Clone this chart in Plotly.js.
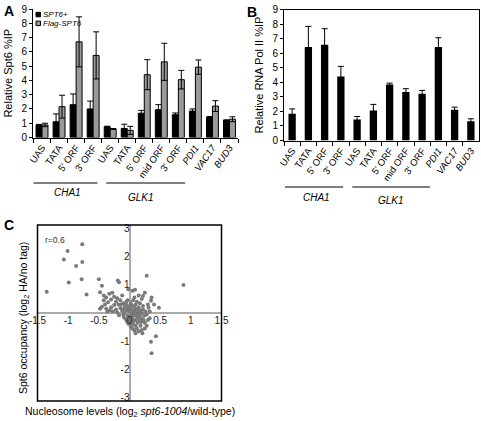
<!DOCTYPE html>
<html>
<head>
<meta charset="utf-8">
<script src="https://cdn.plot.ly/plotly-3.0.1.min.js"></script>
<style>html,body{margin:0;padding:0;background:#fff;}#chart{width:481px;height:421px;}</style>
</head>
<body>
<div id="chart"></div>
<script>
// ---- Data ----
const categories = ['CHA1 UAS','CHA1 TATA','CHA1 5ORF','CHA1 3ORF','GLK1 UAS','GLK1 TATA','GLK1 5ORF','GLK1 midORF','GLK1 3ORF','PDI1','VAC17','BUD3'];
const tickLabels = ['UAS','TATA',"5' ORF","3' ORF",'UAS','TATA',"5' ORF",'mid ORF',"3' ORF",'<i>PDI1</i>','<i>VAC17</i>','<i>BUD3</i>'];
const seriesNames = ['SPT6+', 'Flag-SPT6'];

const spt6Plus    = [0.87, 1.10, 2.30, 2.00, 0.75, 0.63, 1.70, 1.95, 1.60, 1.85, 1.40, 1.20];
const spt6PlusErr = [0.05, 0.55, 0.75, 0.55, 0.04, 0.30, 0.20, 0.35, 0.12, 0.15, 0.07, 0.04];
const flagSpt6    = [0.88, 2.16, 6.70, 5.75, 0.60, 0.50, 4.40, 5.30, 4.05, 4.93, 2.20, 1.28];
const flagSpt6Err = [0.12, 0.80, 1.75, 1.65, 0.03, 0.28, 1.05, 1.30, 0.65, 0.50, 0.38, 0.17];

const polII    = [1.84, 6.42, 6.58, 4.40, 1.44, 2.06, 3.85, 3.33, 3.21, 6.42, 2.11, 1.33];
const polIIErr = [0.33, 1.42, 1.10, 0.69, 0.21, 0.42, 0.09, 0.23, 0.23, 0.64, 0.18, 0.16];

const yTicksAB = [0,1,2,3,4,5,6,7,8,9];

// Panel C: nucleosome levels (x) vs Spt6 occupancy (y)
const nucX = [-1.35,-1.01,-1.07,-0.77,-0.87,-0.77,-0.99,-0.78,-0.70,-0.50,-0.45,-0.48,-0.19,-0.17,-0.02,0.05,0.09,0.28,0.25,0.35,0.31,0.48,0.88,0.33,0.21,0.43,0.35,0.36,
  -0.42,-0.38,-0.33,-0.30,-0.28,-0.25,-0.22,-0.35,-0.40,-0.45,-0.48,-0.38,-0.30,-0.25,-0.20,-0.15,-0.12,-0.18,-0.10,-0.32,-0.27,-0.22,-0.15,-0.12,-0.08,-0.05,-0.42,-0.36,-0.20,-0.10,-0.17,
  -0.05,-0.02,0.00,0.02,0.05,0.08,0.10,0.12,0.15,0.03,-0.03,0.00,0.05,0.08,0.10,0.12,0.15,0.18,0.20,0.02,-0.05,0.06,0.12,0.17,0.22,0.00,0.03,0.06,0.10,0.13,0.16,0.20,0.24,0.05,0.08,0.12,0.18,0.02,-0.02,-0.06,0.25,0.28,0.30,0.15,0.10,-0.08,-0.12,0.04,0.07,-0.01,0.01,0.09,0.14,0.19,0.22,0.26,-0.04,0.11,0.06,0.00,-0.07,0.16,0.04,0.13,-0.03,0.08,-0.14,0.20,0.30,0.33,0.28,0.20,0.25,0.06,-0.09,0.17,0.23,0.15,0.22,0.36,0.40];
const spt6Y = [0.75,2.20,1.90,2.44,1.67,1.81,1.08,1.20,0.66,1.20,0.97,0.74,1.15,1.09,0.84,0.79,0.82,1.32,0.72,0.43,0.19,0.19,0.99,-0.19,-0.72,-0.82,-1.02,-1.43,
  0.62,0.55,0.68,0.48,0.72,0.58,0.40,0.38,0.30,0.22,0.15,0.15,0.20,0.28,0.52,0.45,0.62,0.30,0.35,0.10,0.05,0.12,0.18,0.08,0.22,0.40,0.45,0.05,0.02,-0.05,-0.08,
  0.10,0.20,0.05,0.15,0.25,0.10,0.30,0.05,0.20,-0.05,-0.10,-0.15,-0.20,-0.08,-0.25,-0.12,-0.05,0.10,0.00,0.35,0.28,0.45,0.40,0.35,0.25,-0.30,-0.35,-0.40,-0.45,-0.35,-0.28,-0.20,-0.10,-0.55,-0.62,-0.55,-0.45,-0.48,-0.38,-0.22,-0.35,-0.05,-0.25,-0.65,-0.72,0.00,0.12,0.02,-0.02,0.08,-0.22,0.18,-0.18,-0.32,0.12,0.05,-0.30,-0.05,0.08,0.25,0.15,0.00,-0.12,0.12,0.45,0.55,0.30,0.50,0.30,0.05,-0.45,-0.60,-0.55,-0.30,-0.15,-0.10,-0.25,0.62,0.60,0.55,0.30];
const cXTicks = [-1.5,-1,-0.5,0,0.5,1,1.5];
const cXTickText = ['-1.5','-1','-0.5','0','0.5','1','1.5'];
const cYTicks = [3,2,1,-1,-2,-3];
const cYTickText = ['3','2','1','-1','-2','-3'];

// ---- Geometry helpers (pixel -> paper) ----
const W = 481, H = 421;
const px = v => v / W;
const py = v => (H - v) / H;

const FONT = 'Arial, "Liberation Sans", sans-serif';
const GRAY_BAR = '#9a9a9a';

const traces = [
  { type:'bar', name:seriesNames[0], x:categories, y:spt6Plus, xaxis:'x', yaxis:'y', showlegend:false,
    marker:{color:'#000', line:{color:'#000', width:1}},
    error_y:{type:'data', array:spt6PlusErr, visible:true, color:'#000', thickness:1, width:3} },
  { type:'bar', name:seriesNames[1], x:categories, y:flagSpt6, xaxis:'x', yaxis:'y', showlegend:false,
    marker:{color:GRAY_BAR, line:{color:'#000', width:1}},
    error_y:{type:'data', array:flagSpt6Err, visible:true, color:'#000', thickness:1, width:3} },
  { type:'bar', name:'RNA Pol II', x:categories, y:polII, xaxis:'x2', yaxis:'y2', width:0.45, showlegend:false,
    marker:{color:'#000'},
    error_y:{type:'data', array:polIIErr, visible:true, color:'#000', thickness:1, width:3} },
  { type:'scatter', mode:'markers', x:nucX, y:spt6Y, xaxis:'x3', yaxis:'y3', showlegend:false,
    marker:{color:'#7a7a7a', size:4} }
];

const catAxis = (domain, anchor) => ({
  domain: domain, anchor: anchor, type:'category',
  tickvals: categories, ticktext: tickLabels, tickangle: -55,
  tickfont:{family:FONT, size:9.5, color:'#000'},
  showline:true, linecolor:'#000', linewidth:1,
  ticks:'outside', ticklen:4, tickcolor:'#000', tickson:'boundaries',
  showgrid:false, zeroline:false, automargin:false, fixedrange:true
});

const layout = {
  width: W, height: H,
  margin:{l:0, r:0, t:0, b:0},
  paper_bgcolor:'#fff', plot_bgcolor:'rgba(0,0,0,0)',
  font:{family:FONT, color:'#000'},
  barmode:'group', bargap:0.3, bargroupgap:0,
  showlegend:false,
  xaxis: catAxis([px(33), px(238)], 'y'),
  yaxis: { domain:[py(137.5), py(9)], anchor:'x', range:[0,9], tickvals:yTicksAB,
    tickfont:{family:FONT, size:10, color:'#000'}, showline:true, linecolor:'#000', linewidth:1,
    ticks:'outside', ticklen:3, tickcolor:'#000', showgrid:false, zeroline:false, automargin:false,
    title:{text:'Relative Spt6 %IP', font:{family:FONT, size:11}, standoff:6} },
  xaxis2: Object.assign(catAxis([px(284), px(479)], 'y2'), {mirror:true}),
  yaxis2: { domain:[py(140.5), py(9.5)], anchor:'x2', range:[0,9], tickvals:yTicksAB,
    tickfont:{family:FONT, size:10, color:'#000'}, showline:true, mirror:true, linecolor:'#000', linewidth:1,
    ticks:'outside', ticklen:3, tickcolor:'#000', showgrid:false, zeroline:false, automargin:false,
    title:{text:'Relative RNA Pol II %IP', font:{family:FONT, size:11}, standoff:6} },
  xaxis3: { domain:[px(37.5), px(221.5)], anchor:'free', position:py(313), range:[-1.5,1.5],
    tickvals:cXTicks, ticktext:cXTickText, tickfont:{family:FONT, size:10, color:'#222'},
    showline:false, ticks:'', showgrid:false, zeroline:true, zerolinecolor:'#ababab', zerolinewidth:2,
    automargin:false },
  yaxis3: { domain:[py(401), py(225)], anchor:'free', position:px(129.5), range:[-3.12,3.12],
    tickvals:cYTicks, ticktext:cYTickText, tickfont:{family:FONT, size:10, color:'#222'},
    showline:false, ticks:'', showgrid:false, zeroline:true, zerolinecolor:'#ababab', zerolinewidth:2,
    automargin:false },
  shapes: [
    // legend keys, panel A
    {type:'rect', xref:'paper', yref:'paper', x0:px(36), x1:px(40.5), y0:py(16.8), y1:py(12.3), fillcolor:'#000', line:{color:'#000', width:1}},
    {type:'rect', xref:'paper', yref:'paper', x0:px(36), x1:px(40.5), y0:py(25.6), y1:py(21.1), fillcolor:GRAY_BAR, line:{color:'#000', width:1}},
    // group underline bars, panel A
    {type:'line', xref:'x', yref:'paper', x0:-0.5, x1:3.25, y0:py(183), y1:py(183), line:{color:'#000', width:1}},
    {type:'line', xref:'x', yref:'paper', x0:3.77, x1:8.4, y0:py(183), y1:py(183), line:{color:'#000', width:1}},
    // panel B
    {type:'line', xref:'x2', yref:'paper', x0:-0.44, x1:3.14, y0:py(187), y1:py(187), line:{color:'#000', width:1}},
    {type:'line', xref:'x2', yref:'paper', x0:3.7, x1:8.48, y0:py(187), y1:py(187), line:{color:'#000', width:1}},
    // frame panel C
    {type:'rect', xref:'x3 domain', yref:'y3 domain', x0:0, x1:1, y0:0, y1:1, line:{color:'#000', width:1.5}, layer:'above'}
  ],
  annotations: [
    {text:'<i>'+seriesNames[0]+'</i>', x:px(42), y:py(14.5), xref:'paper', yref:'paper', xanchor:'left', yanchor:'middle', showarrow:false, font:{family:FONT, size:8}, borderpad:0},
    {text:'<i>'+seriesNames[1]+'</i>', x:px(42), y:py(23.4), xref:'paper', yref:'paper', xanchor:'left', yanchor:'middle', showarrow:false, font:{family:FONT, size:8}, borderpad:0},
    {text:'<b>A</b>', x:px(2), y:py(1), xref:'paper', yref:'paper', xanchor:'left', yanchor:'top', showarrow:false, font:{family:FONT, size:14}},
    {text:'<b>B</b>', x:px(245), y:py(2), xref:'paper', yref:'paper', xanchor:'left', yanchor:'top', showarrow:false, font:{family:FONT, size:14}},
    {text:'<b>C</b>', x:px(2), y:py(215), xref:'paper', yref:'paper', xanchor:'left', yanchor:'top', showarrow:false, font:{family:FONT, size:14}},
    {text:'<i>CHA1</i>', x:px(67), y:py(192.5), xref:'paper', yref:'paper', xanchor:'center', yanchor:'middle', showarrow:false, font:{family:FONT, size:10}},
    {text:'<i>GLK1</i>', x:px(141), y:py(197), xref:'paper', yref:'paper', xanchor:'center', yanchor:'middle', showarrow:false, font:{family:FONT, size:10}},
    {text:'<i>CHA1</i>', x:px(316), y:py(197), xref:'paper', yref:'paper', xanchor:'center', yanchor:'middle', showarrow:false, font:{family:FONT, size:10}},
    {text:'<i>GLK1</i>', x:px(391), y:py(200), xref:'paper', yref:'paper', xanchor:'center', yanchor:'middle', showarrow:false, font:{family:FONT, size:10}},
    {text:'r=0.6', x:px(43), y:py(240), xref:'paper', yref:'paper', xanchor:'left', yanchor:'middle', showarrow:false, font:{family:FONT, size:8.5, color:'#333'}},
    {text:'Spt6 occupancy (log<sub>2</sub> HA/no tag)', x:px(24), y:py(318), xref:'paper', yref:'paper', xanchor:'center', yanchor:'middle', textangle:-90, showarrow:false, font:{family:FONT, size:10.5}},
    {text:'Nucleosome levels (log<sub>2</sub> <i>spt6-1004</i>/wild-type)', x:px(130), y:py(412), xref:'paper', yref:'paper', xanchor:'center', yanchor:'middle', showarrow:false, font:{family:FONT, size:10.5}}
  ]
};

Plotly.newPlot('chart', traces, layout, {staticPlot:true, displayModeBar:false});
</script>
</body>
</html>
